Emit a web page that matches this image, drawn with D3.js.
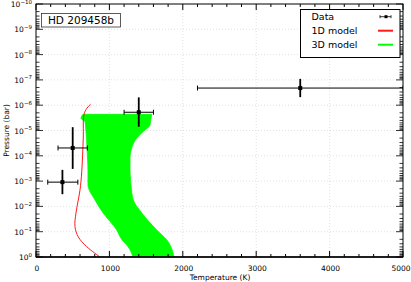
<!DOCTYPE html>
<html>
<head>
<meta charset="utf-8">
<script src="https://cdn.jsdelivr.net/npm/d3@7"></script>
<style>
  body { margin: 0; background: #fff; }
  svg { display: block; font-family: "DejaVu Sans", sans-serif; }
</style>
</head>
<body>
<div id="chart"></div>
<script>
// observed points (temperature K, pressure bar) with error ranges
var obsT = [3600, 1400, 500, 360];
var obsTlo = [2200, 1200, 300, 160];
var obsThi = [5000, 1600, 700, 570];
var obsP = [2.1e-7, 1.9e-6, 4.9e-5, 1.1e-3];
var obsPlo = [9.1e-8, 4.9e-7, 7.4e-6, 3.6e-4];
var obsPhi = [4.8e-7, 7.1e-6, 3.3e-4, 3.3e-3];

// 1D model profile
var model1dP = [9.1e-7, 1.3e-6, 2.3e-6, 2.0e-5, 4.3e-4, 2.2e-3, 5.6e-3, 0.018, 0.063, 0.16, 0.39, 1];
var model1dT = [745, 695, 654, 644, 623, 600, 576, 545, 531, 576, 691, 872];

// 3D model envelope (coolest / hottest profile at each pressure)
var model3dP = [2.3e-6, 3.3e-6, 4.5e-6, 6e-6, 1.1e-5, 2e-5, 4.9e-5, 1.2e-4, 3.7e-4, 1.4e-3, 5.6e-3, 0.018, 0.085, 0.21, 0.40, 1];
var model3dTmin = [640, 613, 668, 674, 681, 688, 695, 702, 708, 708, 804, 913, 1099, 1172, 1257, 1322];
var model3dTmax = [1576, 1567, 1560, 1553, 1460, 1372, 1304, 1281, 1281, 1294, 1326, 1440, 1644, 1781, 1839, 1880];

var xTicks = [0, 1000, 2000, 3000, 4000, 5000];
var yDecades = [-10, -9, -8, -7, -6, -5, -4, -3, -2, -1, 0];
var legendNames = ["Data", "1D model", "3D model"];
var legendColors = ["#000", "#ff1a1a", "#00ff00"];

drawChart();

function drawChart() {
  var width = 411, height = 282;
  var left = 36, right = 403, top = 4, bottom = 257;

  var svg = d3.select("#chart").append("svg")
    .attr("width", width).attr("height", height);

  var x = d3.scaleLinear().domain([0, 5000]).range([left, right]);
  var y = d3.scaleLog().domain([1e-10, 1]).range([top, bottom]);

  svg.append("defs").append("clipPath").attr("id", "clip")
    .append("rect").attr("x", left).attr("y", top)
    .attr("width", right - left).attr("height", bottom - top);

  // grid
  var grid = svg.append("g").attr("stroke", "#ccc").attr("stroke-width", 0.6)
    .attr("stroke-dasharray", "1,2");
  xTicks.slice(1, -1).forEach(function(t) {
    grid.append("line").attr("x1", x(t)).attr("x2", x(t)).attr("y1", top).attr("y2", bottom);
  });
  yDecades.slice(1, -1).forEach(function(e) {
    grid.append("line").attr("x1", left).attr("x2", right).attr("y1", y(Math.pow(10, e))).attr("y2", y(Math.pow(10, e)));
  });

  var plot = svg.append("g").attr("clip-path", "url(#clip)");

  // 3D model band
  var band = model3dP.map(function(p, i) { return {p: p, lo: model3dTmin[i], hi: model3dTmax[i]}; });
  plot.append("path").datum(band)
    .attr("fill", "#00ff00")
    .attr("stroke", "#00ff00").attr("stroke-width", 0.8)
    .attr("d", d3.area()
      .y(function(d) { return y(d.p); })
      .x0(function(d) { return x(d.lo); })
      .x1(function(d) { return x(d.hi); })
      .curve(d3.curveMonotoneY));

  // 1D model
  var prof = model1dP.map(function(p, i) { return {p: p, t: model1dT[i]}; });
  plot.append("path").datum(prof)
    .attr("fill", "none").attr("stroke", "#ff1a1a").attr("stroke-width", 1)
    .attr("d", d3.line()
      .x(function(d) { return x(d.t); })
      .y(function(d) { return y(d.p); })
      .curve(d3.curveCatmullRom));

  // data with error bars
  var obs = obsT.map(function(t, i) {
    return {t: t, tlo: obsTlo[i], thi: obsThi[i], p: obsP[i], plo: obsPlo[i], phi: obsPhi[i]};
  });
  var pts = plot.selectAll(".obs").data(obs).enter().append("g").attr("class", "obs")
    .attr("stroke", "#000");
  pts.append("line").attr("stroke-width", 1)
    .attr("x1", function(d) { return x(d.tlo); }).attr("x2", function(d) { return x(d.thi); })
    .attr("y1", function(d) { return y(d.p); }).attr("y2", function(d) { return y(d.p); });
  pts.append("line").attr("stroke-width", 1)
    .attr("x1", function(d) { return x(d.tlo); }).attr("x2", function(d) { return x(d.tlo); })
    .attr("y1", function(d) { return y(d.p) - 2.5; }).attr("y2", function(d) { return y(d.p) + 2.5; });
  pts.append("line").attr("stroke-width", 1)
    .attr("x1", function(d) { return x(d.thi); }).attr("x2", function(d) { return x(d.thi); })
    .attr("y1", function(d) { return y(d.p) - 2.5; }).attr("y2", function(d) { return y(d.p) + 2.5; });
  pts.append("line").attr("stroke-width", 1.8)
    .attr("x1", function(d) { return x(d.t); }).attr("x2", function(d) { return x(d.t); })
    .attr("y1", function(d) { return y(d.plo); }).attr("y2", function(d) { return y(d.phi); });
  pts.append("rect").attr("stroke", "none").attr("fill", "#000")
    .attr("x", function(d) { return x(d.t) - 2; }).attr("y", function(d) { return y(d.p) - 2; })
    .attr("width", 4).attr("height", 4);

  // axes: frame + inward ticks
  var ax = svg.append("g").attr("stroke", "#000").attr("fill", "none");
  ax.append("rect").attr("x", left).attr("y", top).attr("width", right - left).attr("height", bottom - top)
    .attr("stroke-width", 1);
  ax.append("line").attr("x1", left).attr("x2", right).attr("y1", bottom).attr("y2", bottom).attr("stroke-width", 1.6);

  d3.range(0, 5001, 200).forEach(function(t) {
    var big = t % 1000 === 0, len = big ? 6 : 3;
    ax.append("line").attr("x1", x(t)).attr("x2", x(t)).attr("y1", bottom).attr("y2", bottom - len);
    ax.append("line").attr("x1", x(t)).attr("x2", x(t)).attr("y1", top).attr("y2", top + len);
  });
  yDecades.forEach(function(e) {
    for (var k = 1; k <= 9; k++) {
      if (e === 0 && k > 1) break;
      var v = k * Math.pow(10, e), len = k === 1 ? 7 : 3.5;
      ax.append("line").attr("x1", left).attr("x2", left + len).attr("y1", y(v)).attr("y2", y(v)).attr("stroke-width", 0.8);
      ax.append("line").attr("x1", right).attr("x2", right - len).attr("y1", y(v)).attr("y2", y(v)).attr("stroke-width", 0.8);
    }
  });

  // tick labels
  var xl = svg.append("g").attr("font-size", 7.5).attr("text-anchor", "middle").attr("fill", "#000");
  xTicks.forEach(function(t) {
    xl.append("text").attr("x", Math.min(x(t) + 1, 401)).attr("y", 271).text(t);
  });
  var yl = svg.append("g").attr("font-size", 7.5).attr("text-anchor", "end").attr("fill", "#000");
  yDecades.forEach(function(e) {
    var txt = yl.append("text").attr("x", 32).attr("y", y(Math.pow(10, e)) + 3);
    txt.append("tspan").text("10");
    txt.append("tspan").attr("font-size", 5.5).attr("dy", -3.5).text(e === 0 ? "0" : "\u2212" + (-e));
  });

  svg.append("text").attr("x", 220).attr("y", 280).attr("font-size", 7.5)
    .attr("text-anchor", "middle").text("Temperature (K)");
  svg.append("text").attr("transform", "translate(9," + ((top + bottom) / 2) + ") rotate(-90)")
    .attr("font-size", 7.5).attr("text-anchor", "middle").text("Pressure (bar)");

  // title box
  svg.append("rect").attr("x", 41.5).attr("y", 13.5).attr("width", 79).attr("height", 13.5)
    .attr("fill", "#fff").attr("stroke", "#333").attr("stroke-width", 0.8);
  svg.append("text").attr("x", 81).attr("y", 24).attr("font-size", 10.5)
    .attr("text-anchor", "middle").text("HD 209458b");

  // legend
  var lg = svg.append("g");
  lg.append("rect").attr("x", 300.5).attr("y", 9.5).attr("width", 99.5).attr("height", 48)
    .attr("fill", "#fff").attr("stroke", "#000").attr("stroke-width", 1);
  legendNames.forEach(function(name, i) {
    var yy = 16.7 + i * 14;
    lg.append("text").attr("x", 311.5).attr("y", yy + 3.5).attr("font-size", 9.5).text(name);
    if (i === 0) {
      lg.append("line").attr("x1", 380).attr("x2", 391).attr("y1", yy).attr("y2", yy).attr("stroke", "#000").attr("stroke-width", 0.8);
      lg.append("line").attr("x1", 380).attr("x2", 380).attr("y1", yy - 1.5).attr("y2", yy + 1.5).attr("stroke", "#000").attr("stroke-width", 0.8);
      lg.append("line").attr("x1", 391).attr("x2", 391).attr("y1", yy - 1.5).attr("y2", yy + 1.5).attr("stroke", "#000").attr("stroke-width", 0.8);
      lg.append("rect").attr("x", 384.5).attr("y", yy - 1.5).attr("width", 3).attr("height", 3).attr("fill", "#000");
    } else {
      lg.append("line").attr("x1", 378).attr("x2", 393).attr("y1", yy).attr("y2", yy)
        .attr("stroke", legendColors[i]).attr("stroke-width", 2);
    }
  });
}
</script>
</body>
</html>
